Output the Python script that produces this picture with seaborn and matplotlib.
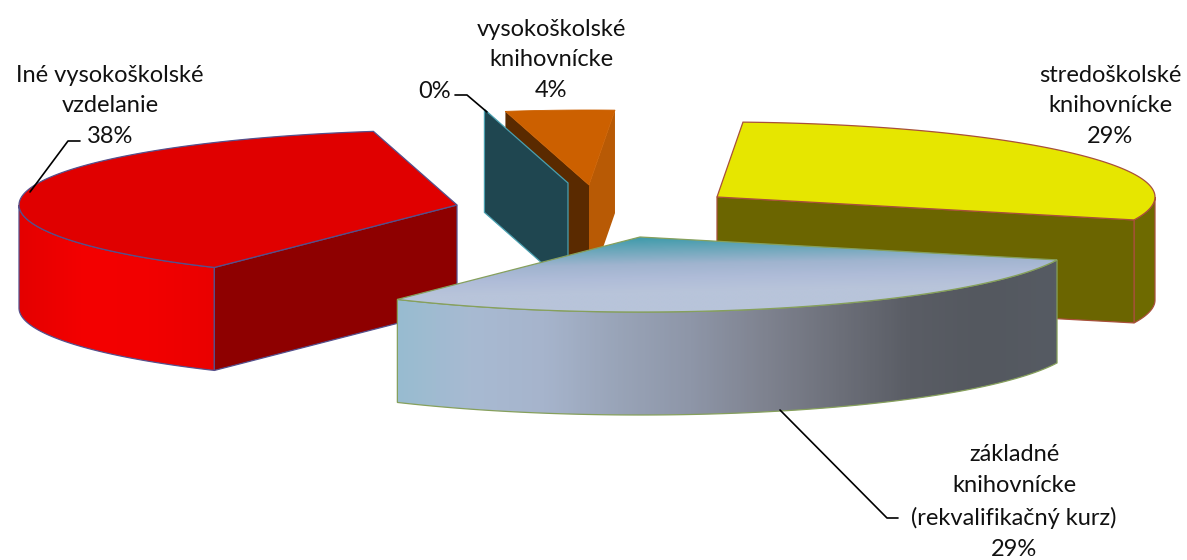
import numpy as np
import matplotlib
matplotlib.use("Agg")
import matplotlib.pyplot as plt
from matplotlib.patches import Polygon
import seaborn as sns

# donnees du graphique, dans le sens horaire (estimees, les etiquettes sont arrondies)
categories = ["stredoškolské\nknihovnícke", "základné\nknihovnícke\n(rekvalifikačný kurz)",
              "Iné vysokoškolské\nvzdelanie", "", "vysokoškolské\nknihovnícke"]
values = [29.0, 29.4, 37.6, 0, 4.0]

# sommet de chaque part une fois eclatee (pixels)
apex_x = [717, 640, 457, 568, 589]
apex_y = [197, 237, 205, 183, 185]
top_colors = ["#e6e600", "#b4c0d8", "#e00000", "#1f4650", "#cc6000"]
face_colors = ["#6b6500", "#555a62", "#8e0000", "#1f4650", "#5a2a00"]
edge_colors = ["#a8503a", "#86a05c", "#55508c", "#4aa0b0", "#cc6000"]

label_x = [1110, 1014, 110, 435, 551]
label_y = [106, 502, 106, 91, 60]

RX, RY, DEPTH = 438, 75, 103
START = 86.6

sns.set_theme(style="white")
plt.rcParams["font.family"] = ["Lato", "DejaVu Sans"]

# angles des parts a partir des valeurs
sweeps = np.array(values) / sum(values) * 360
ends = START - np.cumsum(sweeps)
starts = ends + sweeps


def arc(i, t0, t1, n=120):
    t = np.radians(np.linspace(t0, t1, n))
    return np.column_stack([apex_x[i] + RX * np.cos(t), apex_y[i] - RY * np.sin(t)])


def down(pts):
    return pts + np.array([0, DEPTH])


def shape(ax, pts, color, edge, z, lw=0.9):
    ax.add_patch(Polygon(pts, closed=True, facecolor=color, edgecolor=edge, linewidth=lw, zorder=z))


def gradient(ax, pts, arr, cmap, edge, z):
    x0, y0 = pts.min(axis=0)
    x1, y1 = pts.max(axis=0)
    im = ax.imshow(arr(x0, x1, y0, y1), cmap=cmap, vmin=0, vmax=1, aspect="auto",
                   extent=(x0, x1, y1, y0), zorder=z, interpolation="bilinear")
    patch = Polygon(pts, closed=True, facecolor="none", edgecolor=edge, linewidth=0.9, zorder=z + 0.5)
    ax.add_patch(patch)
    im.set_clip_path(patch)


def horiz(x0, x1, y0, y1):
    return np.linspace(0, 1, 300).reshape(1, -1)


def top_shade(x0, x1, y0, y1):
    xx, yy = np.meshgrid(np.linspace(x0, x1, 300), np.linspace(y0, y1, 120))
    return np.clip((yy - 237) / 55 + (xx - 640) / 3000, 0, 1)


fig = plt.figure(figsize=(11.87, 5.6), dpi=100)
ax = fig.add_axes([0, 0, 1, 1])

# part orange (4 %)
i = 4
p = arc(i, starts[i], ends[i])
apex = np.array([[apex_x[i], apex_y[i]]])
shape(ax, np.vstack([apex, p[:1], down(p[:1]), down(apex)]), face_colors[i], "none", 1)
shape(ax, np.vstack([apex, p[-1:], down(p[-1:]), down(apex)]), "#b85a05", "none", 1)
shape(ax, np.vstack([apex, p]), top_colors[i], edge_colors[i], 2, lw=0.6)

# part a 0 % : une seule face
i = 3
p = arc(i, starts[i], ends[i], n=2)
apex = np.array([[apex_x[i], apex_y[i]]])
shape(ax, np.vstack([apex, p[:1], down(p[:1]), down(apex)]), face_colors[i], edge_colors[i], 3)

# part rouge
i = 2
apex = np.array([[apex_x[i], apex_y[i]]])
p = arc(i, starts[i], ends[i])
wall = arc(i, -180, starts[i])
red_cmap = sns.blend_palette(["#e40000", "#f40000", "#f20000", "#ea0000"], as_cmap=True)
gradient(ax, np.vstack([wall, down(wall)[::-1]]), horiz, red_cmap, edge_colors[i], 4)
corner = wall[-1:]
shape(ax, np.vstack([apex, corner, down(corner), down(apex)]), face_colors[i], edge_colors[i], 5)
shape(ax, np.vstack([apex, p]), top_colors[i], edge_colors[i], 6)

# part jaune
i = 0
apex = np.array([[apex_x[i], apex_y[i]]])
p = arc(i, starts[i], ends[i])
wall = arc(i, 0, ends[i])
shape(ax, np.vstack([wall, down(wall)[::-1]]), "#6e6a00", edge_colors[i], 7)
corner = wall[-1:]
shape(ax, np.vstack([apex, corner, down(corner), down(apex)]), face_colors[i], edge_colors[i], 8)
shape(ax, np.vstack([apex, p]), top_colors[i], edge_colors[i], 9)

# part bleue, avec degrades
i = 1
apex = np.array([[apex_x[i], apex_y[i]]])
p = arc(i, starts[i], ends[i])
wall_cmap = sns.blend_palette(["#98bcd0", "#a8bad2", "#a6b4cc", "#99a4b8", "#8e96a8", "#7f8390",
                               "#6d707a", "#5a5d65", "#54585f", "#565b63"], as_cmap=True)
top_cmap = sns.blend_palette(["#3f9bab", "#6fa8bc", "#a0b4cf", "#afbcd8", "#b8c4da"], as_cmap=True)
gradient(ax, np.vstack([p, down(p)[::-1]]), horiz, wall_cmap, edge_colors[i], 10)
gradient(ax, np.vstack([apex, p]), top_shade, top_cmap, edge_colors[i], 12)

# etiquettes
for i in range(len(values)):
    txt = f"{categories[i]}\n{values[i]:.0f}%" if categories[i] else f"{values[i]:.0f}%"
    ax.text(label_x[i], label_y[i], txt, ha="center", va="center", fontsize=17,
            linespacing=1.58, color="#111111", zorder=20)

# lignes de rappel
ax.plot([30, 68, 80], [192, 141, 141], color="black", lw=1.2, zorder=21)
ax.plot([455, 467, 487], [95, 95, 112], color="black", lw=1.2, zorder=21)
ax.plot([780, 887, 898], [410, 518, 518], color="black", lw=1.2, zorder=21)

ax.set_xlim(0, 1187)
ax.set_ylim(560, 0)
ax.axis("off")
fig.savefig("out.png", dpi=100, facecolor="white")
